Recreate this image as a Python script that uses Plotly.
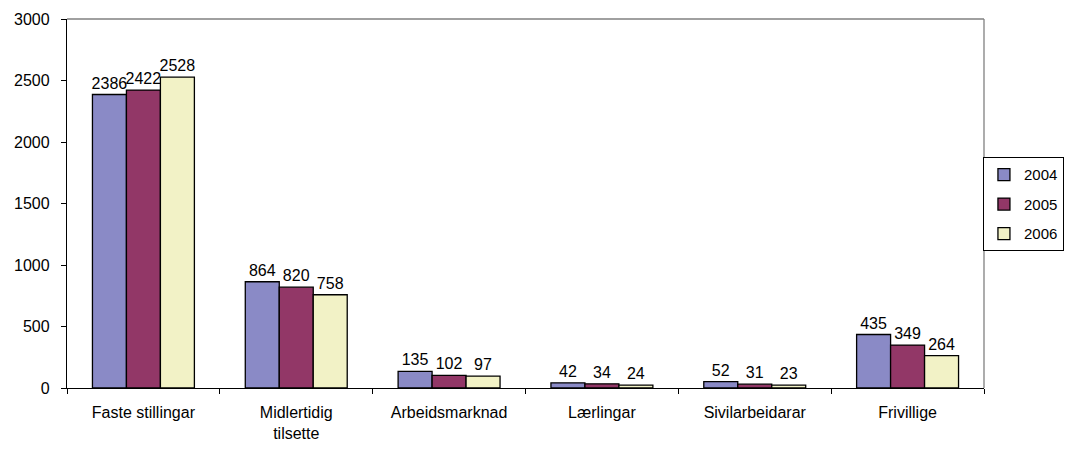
import plotly.graph_objects as go

categories = ["Faste stillingar", "Midlertidig<br>tilsette", "Arbeidsmarknad",
              "Lærlingar", "Sivilarbeidarar", "Frivillige"]
years = ["2004", "2005", "2006"]
values_2004 = [2386, 864, 135, 42, 52, 435]
values_2005 = [2422, 820, 102, 34, 31, 349]
values_2006 = [2528, 758, 97, 24, 23, 264]

colors = {"2004": "#8A8AC6", "2005": "#923767", "2006": "#F2F2C6"}
series = {"2004": values_2004, "2005": values_2005, "2006": values_2006}

font_family = "Liberation Sans, Arial, sans-serif"

fig = go.Figure()
for yr in years:
    fig.add_trace(go.Bar(name=yr,
                         legendgroup=yr,
                         x=categories,
                         y=series[yr],
                         text=series[yr],
                         textposition="outside",
                         constraintext="none",
                         cliponaxis=False,
                         textfont=dict(size=16, color="black"),
                         marker=dict(color=colors[yr], line=dict(color="black", width=1.3))))

# grey top and right border of the plot area
fig.add_shape(type="line", xref="paper", yref="paper", x0=0, x1=1, y0=1, y1=1,
              line=dict(color="#808080", width=1.3))
fig.add_shape(type="line", xref="paper", yref="paper", x0=1, x1=1, y0=0, y1=1,
              line=dict(color="#808080", width=1.3))

# the page has an 8px body margin all round, so the figure is 16px smaller each way
fig.update_layout(width=1057, height=434,
                  margin=dict(l=59, r=81, t=11, b=54, autoexpand=False),
                  barmode="group",
                  bargap=0.333,
                  bargroupgap=0,
                  plot_bgcolor="white",
                  paper_bgcolor="white",
                  font=dict(family=font_family, size=16, color="black"),
                  showlegend=True,
                  legend=dict(xref="container", yref="container",
                              x=0.999, y=0.656, xanchor="right", yanchor="top",
                              bordercolor="black", borderwidth=1,
                              font=dict(size=15), tracegroupgap=7,
                              itemwidth=30))

fig.update_xaxes(showline=True, linecolor="black", linewidth=1.3,
                 ticks="outside", tickson="boundaries", ticklen=5,
                 tickcolor="black", showgrid=False, ticklabelstandoff=10,
                 tickfont=dict(size=16))
fig.update_yaxes(range=[0, 3000], dtick=500, showline=True, linecolor="black",
                 linewidth=1.3, ticks="outside", ticklen=5, tickcolor="black",
                 showgrid=False, zeroline=False, ticklabelstandoff=8,
                 tickfont=dict(size=16))

fig.write_html("out.html")
